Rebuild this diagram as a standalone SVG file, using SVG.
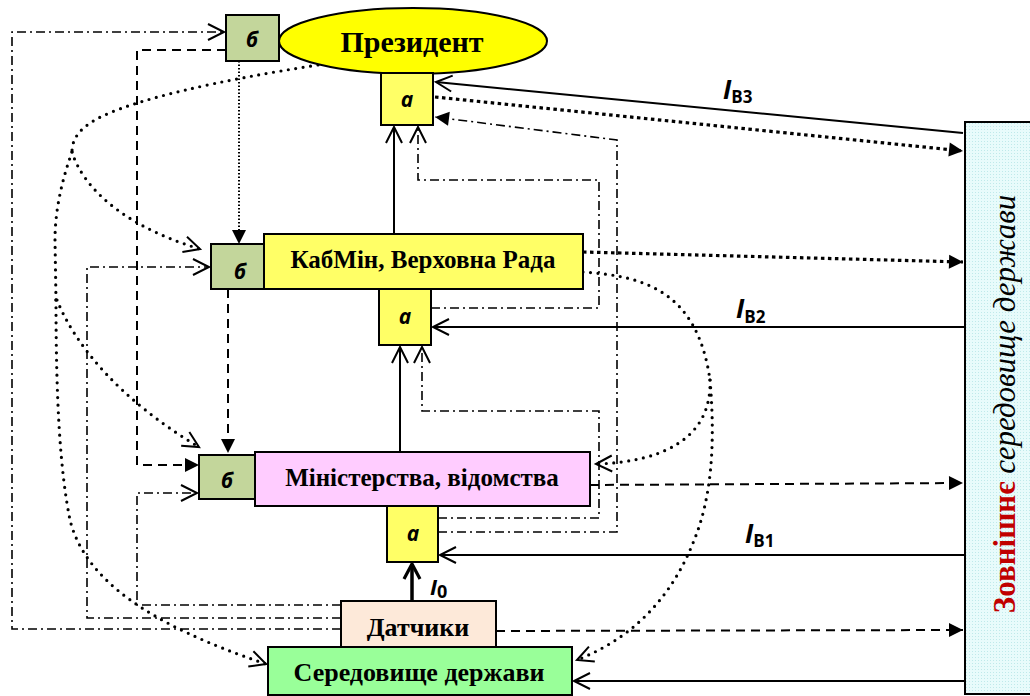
<svg xmlns="http://www.w3.org/2000/svg" width="1030" height="696" viewBox="0 0 1030 696">
<style>
.box{stroke:#000;stroke-width:2}
.ttl{font-family:"Liberation Serif",serif;font-weight:bold;fill:#000}
.lbl{font-family:"Open Sans","Liberation Sans",sans-serif;font-weight:bold;font-style:italic;font-size:21px;fill:#000;text-anchor:middle}
.ix{font-family:"Open Sans","Liberation Sans",sans-serif;font-weight:bold;fill:#000}
.c{fill:none;stroke:#000}
.sol{stroke-width:2}
.dd{stroke-width:1.6;stroke-dasharray:9,4,2,4}
.ds{stroke-width:2;stroke-dasharray:9,6}
.sq{stroke-width:3.2;stroke-dasharray:3.5,3.5}
.rd{stroke-width:3.2;stroke-dasharray:0,7.5;stroke-linecap:round}
.sd{stroke-width:2;stroke-dasharray:1.5,2}
</style>
<defs>
<marker id="open" markerUnits="userSpaceOnUse" markerWidth="22" markerHeight="22" refX="17" refY="9" orient="auto" overflow="visible">
<path d="M1,1 L17,9 L1,17" fill="none" stroke="#000" stroke-width="2"/>
</marker>
<marker id="openB" markerUnits="userSpaceOnUse" markerWidth="22" markerHeight="22" refX="17" refY="9" orient="auto" overflow="visible">
<path d="M2,1 L17,9 L2,17" fill="none" stroke="#000" stroke-width="3.2"/>
</marker>
<marker id="fill" markerUnits="userSpaceOnUse" markerWidth="16" markerHeight="14" refX="14" refY="7" orient="auto" overflow="visible">
<path d="M0,0 L14,7 L0,14 z" fill="#000"/>
</marker>
<pattern id="dots" width="3" height="3" patternUnits="userSpaceOnUse">
<rect width="3" height="3" fill="#e8fbfb"/>
<rect width="1" height="1" fill="#bfe9ea"/>
</pattern>
</defs>

<g id="connectors">
<!-- solid -->
<path class="c sol" d="M394,233 V127" marker-end="url(#open)"/>
<path class="c sol" d="M400,452 V347" marker-end="url(#open)"/>
<path class="c" stroke-width="3.5" d="M412,601 V564" marker-end="url(#openB)"/>
<path class="c sol" d="M963,133 L436,82" marker-end="url(#open)"/>
<path class="c sol" d="M966,327 H433" marker-end="url(#open)"/>
<path class="c sol" d="M966,555 H440" marker-end="url(#open)"/>
<path class="c sol" d="M966,681 H574" marker-end="url(#open)"/>
<!-- dash-dot -->
<path class="c dd" d="M431,308 H599 V180 H418 V127" marker-end="url(#open)"/>
<path class="c dd" d="M438,532 H617 V140 L435,117" marker-end="url(#fill)"/>
<path class="c dd" d="M438,518 H599 V411 H422 V347" marker-end="url(#open)"/>
<path class="c dd" d="M341,629 H12 V32 H224" marker-end="url(#open)"/>
<path class="c dd" d="M341,618 H87 V267 H209" marker-end="url(#open)"/>
<path class="c dd" d="M341,605 H137 V493 H197" marker-end="url(#open)"/>
<!-- dashed -->
<path class="c ds" d="M226,50 H137 V465 H199" marker-end="url(#fill)"/>
<path class="c ds" d="M228,289 V453" marker-end="url(#fill)"/>
<path class="c ds" d="M590,485 L963,483" marker-end="url(#fill)"/>
<path class="c ds" d="M496,631 L963,630" marker-end="url(#fill)"/>
<!-- square dotted -->
<path class="c sq" d="M435,97 L963,151" marker-end="url(#fill)"/>
<path class="c sq" d="M583,252 L963,262" marker-end="url(#fill)"/>
<!-- small dotted -->
<path class="c sd" d="M239,61 V244" marker-end="url(#fill)"/>
<!-- round dotted left -->
<path class="c rd" d="M318,65 C 220,80 130,100 95,120 C 78,130 72,140 72,152"/>
<path class="c rd" d="M72,152 C 82,185 120,225 200,249" marker-end="url(#open)"/>
<path class="c rd" d="M72,152 C 62,180 55,210 55,240 L56,300"/>
<path class="c rd" d="M57,300 C 75,345 120,400 199,447" marker-end="url(#open)"/>
<path class="c rd" d="M56,300 C 56,400 60,470 70,520 C 85,580 150,625 266,664" marker-end="url(#open)"/>
<!-- round dotted right -->
<path class="c rd" d="M583,272 C 640,276 697,288 710,380"/>
<path class="c rd" d="M710,380 C 712,440 660,462 596,464" marker-end="url(#open)"/>
<path class="c rd" d="M710,380 C 716,450 710,500 695,538 C 675,590 640,635 577,660" marker-end="url(#open)"/>
<!-- labels -->
<text class="ix" x="723" y="99"><tspan font-size="26" font-style="italic">I</tspan><tspan font-size="17" dy="4">В3</tspan></text>
<text class="ix" x="736" y="318"><tspan font-size="26" font-style="italic">I</tspan><tspan font-size="17" dy="5">В2</tspan></text>
<text class="ix" x="745" y="543"><tspan font-size="26" font-style="italic">I</tspan><tspan font-size="17" dy="4">В1</tspan></text>
<text class="ix" x="430" y="595"><tspan font-size="22" font-style="italic">I</tspan><tspan font-size="18" dy="3">0</tspan></text>
</g>

<g id="president">
<ellipse class="box" cx="413" cy="41" rx="134" ry="33" fill="#ffff00" stroke-width="1.5"/>
<text class="ttl" x="412" y="52" font-size="30" text-anchor="middle">Президент</text>
</g>
<g id="b1">
<rect class="box" x="226" y="15" width="53" height="46" fill="#c3d69b"/>
<text class="lbl" x="252" y="47">б</text>
</g>
<g id="a1">
<rect class="box" x="381" y="73" width="52" height="52" fill="#ffff66"/>
<text class="lbl" x="407" y="107">а</text>
</g>
<g id="kabmin">
<rect class="box" x="264" y="234" width="319" height="55" fill="#ffff66"/>
<text class="ttl" x="423" y="268" font-size="25" text-anchor="middle">КабМін, Верховна Рада</text>
</g>
<g id="b2">
<rect class="box" x="211" y="244" width="53" height="45" fill="#c3d69b"/>
<text class="lbl" x="240" y="279">б</text>
</g>
<g id="a2">
<rect class="box" x="379" y="289" width="52" height="56" fill="#ffff66"/>
<text class="lbl" x="405" y="324">а</text>
</g>
<g id="ministry">
<rect class="box" x="255" y="452" width="335" height="54" fill="#ffccff"/>
<text class="ttl" x="422" y="486" font-size="25" text-anchor="middle">Міністерства, відомства</text>
</g>
<g id="b3">
<rect class="box" x="199" y="455" width="56" height="44" fill="#c3d69b"/>
<text class="lbl" x="227" y="488">б</text>
</g>
<g id="a3">
<rect class="box" x="387" y="506" width="51" height="56" fill="#ffff66"/>
<text class="lbl" x="413" y="541">а</text>
</g>
<g id="sensors">
<rect class="box" x="341" y="601" width="155" height="46" fill="#fde9d9"/>
<text class="ttl" x="418" y="636" font-size="26" text-anchor="middle">Датчики</text>
</g>
<g id="state-env">
<rect class="box" x="268" y="647" width="304" height="48" fill="#99ff99"/>
<text class="ttl" x="419" y="681" font-size="26" text-anchor="middle">Середовище держави</text>
</g>
<g id="external-env">
<rect class="box" x="965" y="122" width="80" height="572" fill="url(#dots)"/>
<text transform="translate(1015,404) rotate(-90)" text-anchor="middle" font-size="31" font-family="'Liberation Serif',serif"><tspan font-weight="bold" fill="#c00000">Зовнішнє</tspan><tspan font-style="italic" fill="#000"> середовище держави</tspan></text>
</g>
</svg>
